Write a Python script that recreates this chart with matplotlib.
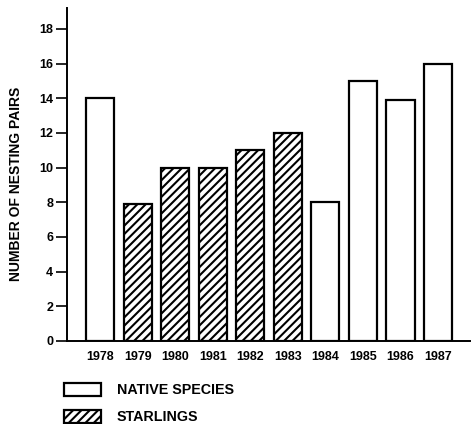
import matplotlib.pyplot as plt
import numpy as np
from matplotlib.patches import Patch

plt.rcParams['font.family'] = ['Liberation Sans', 'DejaVu Sans']
plt.rcParams['font.weight'] = 'bold'
plt.rcParams['hatch.linewidth'] = 1.5

# data
years = ['1978', '1979', '1980', '1981', '1982', '1983', '1984', '1985', '1986', '1987']
pairs = [14, 7.9, 10, 10, 11, 12, 8, 15, 13.9, 16]
group = ['native', 'starling', 'starling', 'starling', 'starling', 'starling',
         'native', 'native', 'native', 'native']
yticks = [0, 2, 4, 6, 8, 10, 12, 14, 16, 18]

fig = plt.figure(figsize=(4.73, 4.24), dpi=100)
ax = fig.add_axes([0.1416, 0.1958, 0.852, 0.785])

x = np.arange(len(years))
for xi, v, g in zip(x, pairs, group):
    ax.bar(xi, v, width=0.75, facecolor='white', edgecolor='black', linewidth=1.6,
           hatch='////' if g == 'starling' else None)

ax.set_xlim(-0.88, 9.85)
ax.set_ylim(0, 19.2)
ax.set_yticks(yticks)
ax.set_yticklabels([str(t) for t in yticks], fontsize=9, fontweight='bold')
ax.set_xticks(x)
ax.set_xticklabels(years, fontsize=9, fontweight='bold')
ax.tick_params(axis='x', length=0, pad=7)
ax.tick_params(axis='y', length=8, width=1.2, pad=2)
ax.spines['top'].set_visible(False)
ax.spines['right'].set_visible(False)
ax.spines['left'].set_linewidth(1.4)
ax.spines['bottom'].set_linewidth(1.4)
ax.set_ylabel('NUMBER OF NESTING PAIRS', fontsize=10, fontweight='bold')
ax.yaxis.set_label_coords(-0.11, 0.473)

handles = [Patch(facecolor='white', edgecolor='black', linewidth=1.6, label='NATIVE SPECIES'),
           Patch(facecolor='white', edgecolor='black', linewidth=1.6, hatch='////', label='STARLINGS')]
fig.legend(handles=handles, loc='upper left', bbox_to_anchor=(0.135, 0.097), frameon=False,
           prop={'size': 10.3, 'weight': 'bold'}, handlelength=2.6, handleheight=1.0,
           labelspacing=0.9, handletextpad=1.1, borderaxespad=0, borderpad=0)

fig.savefig('out.png', dpi=100)
